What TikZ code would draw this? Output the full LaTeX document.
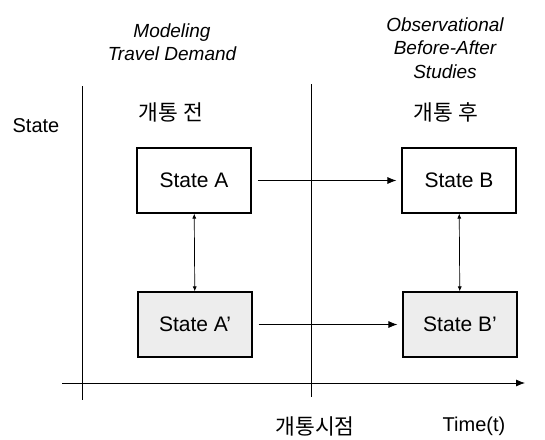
\documentclass[tikz,border=0pt]{standalone}
\usepackage{fontspec}
\setmainfont{Liberation Sans}
\newfontfamily\kor{Noto Sans CJK KR}
\usetikzlibrary{arrows.meta}
\begin{document}
\begin{tikzpicture}[x=1pt,y=-1pt,
  statebox/.style={draw,line width=1.2pt,minimum width=114pt,minimum height=65pt,inner sep=0pt,font=\fontsize{21}{24}\selectfont},
  shadedbox/.style={statebox,fill=gray!14},
  arr/.style={line width=0.8pt,-{Latex[length=9pt,width=7pt]}},
  darr/.style={line width=0.7pt,{Latex[length=5pt,width=4pt]}-{Latex[length=5pt,width=4pt]}},
  axisline/.style={line width=0.8pt},
  lbl/.style={font=\fontsize{20}{24}\selectfont},
  klbl/.style={font=\kor\fontsize{21.5}{24}\selectfont},
  head/.style={font=\itshape\fontsize{19}{23.5}\selectfont,align=center}
]
\useasboundingbox (0,0) rectangle (545,439);
% header texts
\node[head] (hm) at (172,42) {Modeling\\Travel Demand};
\node[head] (ho) at (445,48) {Observational\\Before-After\\Studies};
\node[klbl] (kb) at (171,112) {개통 전};
\node[klbl] (ka) at (446,112) {개통 후};
\node[lbl] (st) at (36,126) {State};
% lines
\coordinate (l0) at (82,86);
\coordinate (l1) at (82,400);
\coordinate (m0) at (311,84);
\coordinate (m1) at (311,397);
\coordinate (ax0) at (62,383);
\coordinate (ax1) at (525,383);
\draw[axisline] (l0) -- (l1);
\draw[axisline] (m0) -- (m1);
\draw[axisline,-{Latex[length=9pt,width=7pt]}] (ax0) -- (ax1);
% boxes
\node[statebox] (A) at (194,180.5) {State A};
\node[shadedbox] (A2) at (195,324.5) {State A'};
\node[statebox] (B) at (459,180.5) {State B};
\node[shadedbox] (B2) at (460,324.5) {State B'};
% arrows
\draw[arr,shorten <=6pt,shorten >=5pt] (A) -- (B);
\draw[arr,shorten <=6pt,shorten >=5pt] (A2) -- (B2);
\draw[darr] (A) -- (A2);
\draw[darr] (B) -- (B2);
% bottom labels
\node[klbl] (t0) at (315,426) {개통시점};
\node[lbl] (tt) at (474,426) {Time(t)};
\end{tikzpicture}
\end{document}
